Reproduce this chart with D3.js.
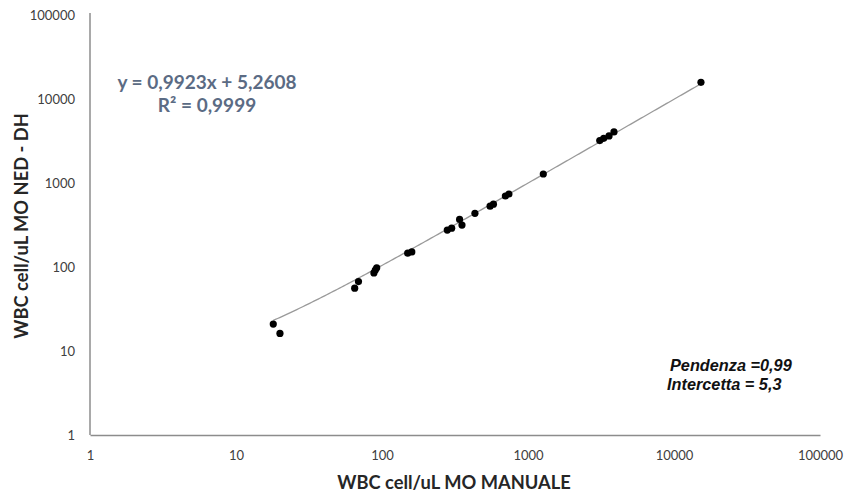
<!DOCTYPE html>
<html>
<head>
<meta charset="utf-8">
<script src="https://cdn.jsdelivr.net/npm/d3@7"></script>
<style>
  html, body { margin: 0; padding: 0; background: #fff; }
  svg { display: block; font-family: Lato, "Open Sans", sans-serif; }
</style>
</head>
<body>
<svg id="chart" width="846" height="495"></svg>
<script>
// Manual count (x) vs. instrument count (y), WBC cells/uL
const manuale = [18, 20, 65, 69, 88, 90, 92, 150, 160, 280, 300, 340, 353, 433, 550, 580, 700, 740, 1273, 3100, 3300, 3590, 3880, 15300];
const nedDH   = [20.9, 16.2, 56, 67, 85, 92, 98, 146, 151, 275, 290, 368, 316, 436, 530, 560, 700, 740, 1280, 3200, 3400, 3630, 4050, 15800];
const tickValues = [1, 10, 100, 1000, 10000, 100000];
const slope = 0.9923, intercept = 5.2608;

const svg = d3.select("#chart");
const x = d3.scaleLog().domain([1, 100000]).range([90, 820]);
const y = d3.scaleLog().domain([1, 100000]).range([435, 15]);

const axisColor = "#8c8c8c";
const tickColor = "#404040";

// x axis
const gx = svg.append("g").attr("transform", "translate(0,435)")
  .call(d3.axisBottom(x).tickValues(tickValues).tickFormat(d3.format("d")).tickSize(0).tickPadding(16));
gx.select(".domain").attr("stroke", axisColor).attr("stroke-width", 1.5);
gx.selectAll("text").attr("fill", tickColor).style("font-size", "13px").style("font-family", "Lato, sans-serif");

// y axis
const gy = svg.append("g").attr("transform", "translate(90,0)")
  .call(d3.axisLeft(y).tickValues(tickValues).tickFormat(d3.format("d")).tickSize(0).tickPadding(15));
gy.select(".domain").attr("stroke", axisColor).attr("stroke-width", 1.5)
  .attr("d", `M0,${y(100000) - 2}V${y(1)}`);
gy.selectAll("text").attr("fill", tickColor).style("font-size", "13px").style("font-family", "Lato, sans-serif");

// linear trendline drawn on log axes
const xmin = d3.min(manuale), xmax = d3.max(manuale);
const trend = d3.range(0, 201).map(i => {
  const v = xmin * Math.pow(xmax / xmin, i / 200);
  return [v, slope * v + intercept];
});
svg.append("path")
  .datum(trend)
  .attr("fill", "none")
  .attr("stroke", "#9a9a9a")
  .attr("stroke-width", 1.3)
  .attr("d", d3.line().x(d => x(d[0])).y(d => y(d[1])));

// points
svg.append("g").selectAll("circle")
  .data(manuale.map((v, i) => [v, nedDH[i]]))
  .join("circle")
  .attr("cx", d => x(d[0]))
  .attr("cy", d => y(d[1]))
  .attr("r", 3.6)
  .attr("fill", "#000");

// regression equation
const eq = svg.append("text")
  .attr("text-anchor", "middle")
  .attr("fill", "#5b6b84")
  .style("font-weight", "bold")
  .style("font-size", "19px");
eq.append("tspan").attr("x", 207).attr("y", 89).text("y = 0,9923x + 5,2608");
eq.append("tspan").attr("x", 207).attr("y", 112).text("R² = 0,9999");

// slope / intercept note
const note = svg.append("text")
  .attr("fill", "#111")
  .style("font-family", "'Liberation Sans', Arial, sans-serif")
  .style("font-weight", "bold")
  .style("font-style", "italic")
  .style("font-size", "16.3px");
note.append("tspan").attr("x", 670).attr("y", 371).text("Pendenza =0,99");
note.append("tspan").attr("x", 667).attr("y", 390).text("Intercetta = 5,3");

// axis titles
svg.append("text")
  .attr("x", 454).attr("y", 489)
  .attr("text-anchor", "middle")
  .attr("fill", "#262626")
  .style("font-weight", "bold")
  .style("font-size", "18.3px")
  .text("WBC cell/uL MO MANUALE");

svg.append("text")
  .attr("transform", "translate(28,226) rotate(-90)")
  .attr("text-anchor", "middle")
  .attr("fill", "#262626")
  .style("font-weight", "bold")
  .style("font-size", "18.3px")
  .text("WBC cell/uL MO NED - DH");
</script>
</body>
</html>
